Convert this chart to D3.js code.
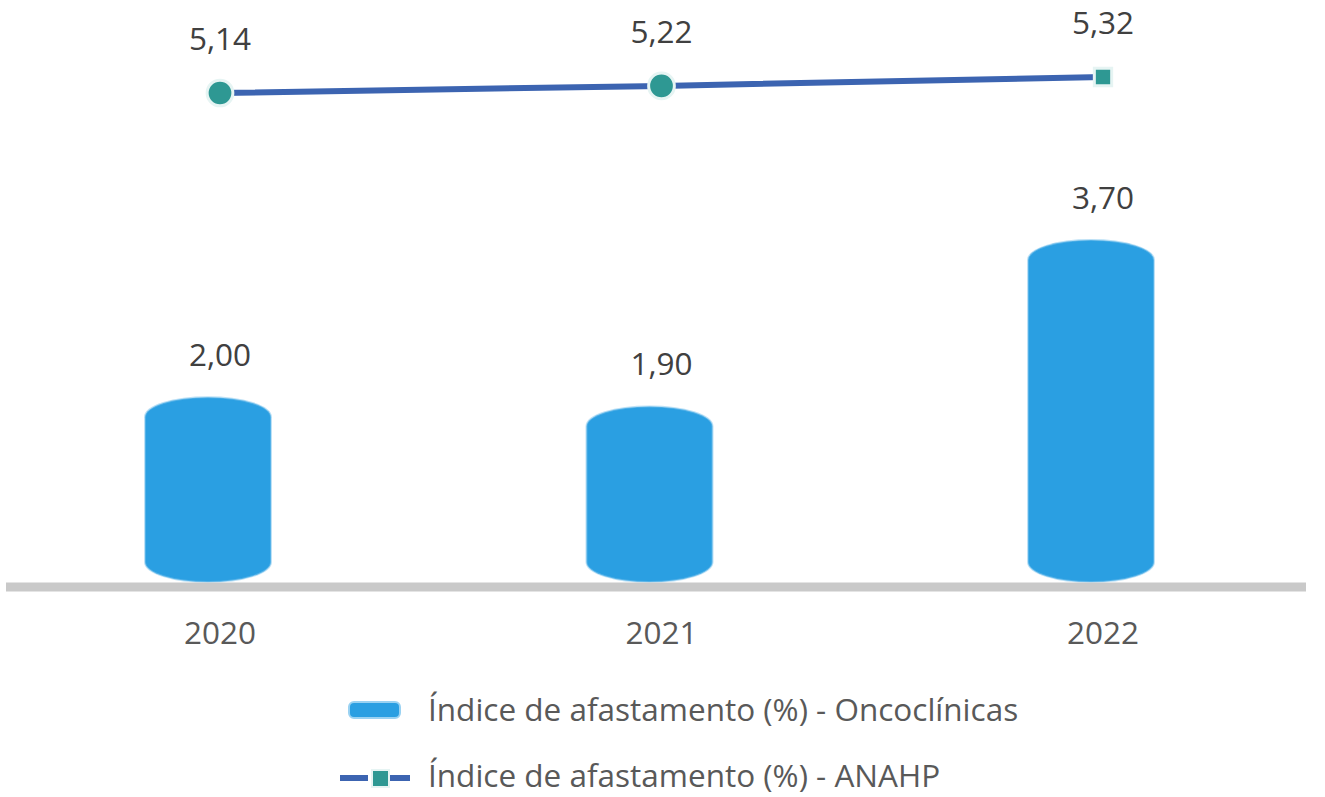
<!DOCTYPE html>
<html lang="pt">
<head>
<meta charset="utf-8">
<title>Índice de afastamento</title>
<script src="https://d3js.org/d3.v7.min.js"></script>
<style>
body { margin: 0; background: #fff; }
text { font-family: "Open Sans", "DejaVu Sans", sans-serif; }
</style>
</head>
<body>
<div id="chart"></div>
<script>
// data
var years = ["2020", "2021", "2022"];
var oncoValues = [2.00, 1.90, 3.70];
var anahpValues = [5.14, 5.22, 5.32];
var oncoName = "Índice de afastamento (%) - Oncoclínicas";
var anahpName = "Índice de afastamento (%) - ANAHP";

var W = 1325, H = 797;
var baseY = 582;
var fs = "31.5px";

var svg = d3.select("#chart").append("svg")
  .attr("width", W)
  .attr("height", H);

var fmt = function(v) { return d3.format(".2f")(v).replace(".", ","); };

// x: category centres
var x = d3.scalePoint()
  .domain(years)
  .range([220, 1103]);

// primary axis (bars)
var y = d3.scaleLinear()
  .domain([0, 3.7])
  .range([baseY, 240]);

// secondary axis (line)
var y2 = d3.scaleLinear()
  .domain([5.14, 5.32])
  .range([93, 77]);

var barW = 126, barOff = -12;

// bars, drawn as rounded "capsules"
svg.selectAll(".bar")
  .data(oncoValues)
  .enter()
  .append("rect")
    .attr("class", "bar")
    .attr("x", function(d, i) { return x(years[i]) + barOff - barW / 2; })
    .attr("y", function(d) { return y(d); })
    .attr("width", barW)
    .attr("height", function(d) { return baseY - y(d); })
    .attr("rx", barW / 2)
    .attr("ry", 20)
    .attr("fill", "#2a9fe2")
    .attr("stroke", "#7cc4ee")
    .attr("stroke-width", 2)
    .attr("stroke-opacity", 0.5);

// baseline
svg.append("line")
  .attr("x1", 6).attr("x2", 1306)
  .attr("y1", baseY + 5).attr("y2", baseY + 5)
  .attr("stroke", "#c9c9c9")
  .attr("stroke-width", 9);

// x labels
svg.selectAll(".xlab")
  .data(years)
  .enter()
  .append("text")
    .attr("x", function(d) { return x(d); })
    .attr("y", 644)
    .attr("text-anchor", "middle")
    .attr("fill", "#595959")
    .style("font-size", fs)
    .text(function(d) { return d; });

// bar labels
svg.selectAll(".blab")
  .data(oncoValues)
  .enter()
  .append("text")
    .attr("x", function(d, i) { return x(years[i]); })
    .attr("y", function(d) { return y(d) - 31; })
    .attr("text-anchor", "middle")
    .attr("fill", "#404040")
    .style("font-size", fs)
    .text(function(d) { return fmt(d); });

// line
var line = d3.line()
  .x(function(d, i) { return x(years[i]); })
  .y(function(d) { return y2(d); });

svg.append("path")
  .datum(anahpValues)
  .attr("d", line)
  .attr("fill", "none")
  .attr("stroke", "#3c64b1")
  .attr("stroke-width", 6);

// markers: circles for the first two years, square for the last
svg.selectAll(".pt")
  .data(anahpValues)
  .enter()
  .append("path")
    .attr("class", "pt")
    .attr("transform", function(d, i) { return "translate(" + x(years[i]) + "," + y2(d) + ")"; })
    .attr("d", function(d, i) {
      return i < 2
        ? d3.symbol().type(d3.symbolCircle).size(520)()
        : d3.symbol().type(d3.symbolSquare).size(300)();
    })
    .attr("fill", "#2e9893")
    .attr("stroke", "#e6f4f3")
    .attr("stroke-width", 3);

// line labels
svg.selectAll(".llab")
  .data(anahpValues)
  .enter()
  .append("text")
    .attr("x", function(d, i) { return x(years[i]); })
    .attr("y", function(d) { return y2(d) - 43; })
    .attr("text-anchor", "middle")
    .attr("fill", "#404040")
    .style("font-size", fs)
    .text(function(d) { return fmt(d); });

// legend
var lg = svg.append("g");
lg.append("rect")
  .attr("x", 349).attr("y", 702)
  .attr("width", 51).attr("height", 16)
  .attr("rx", 5)
  .attr("fill", "#2a9fe2")
  .attr("stroke", "#9ad2f2")
  .attr("stroke-width", 2);
lg.append("text")
  .attr("x", 428).attr("y", 721)
  .attr("fill", "#595959")
  .style("font-size", fs)
  .text(oncoName);

lg.append("line")
  .attr("x1", 340).attr("x2", 422)
  .attr("y1", 778).attr("y2", 778)
  .attr("stroke", "#3c64b1")
  .attr("stroke-width", 6)
  .attr("stroke-dasharray", "28,14");
lg.append("rect")
  .attr("x", 372).attr("y", 770)
  .attr("width", 17).attr("height", 17)
  .attr("fill", "#2e9893")
  .attr("stroke", "#e6f4f3")
  .attr("stroke-width", 2);
lg.append("text")
  .attr("x", 428).attr("y", 787)
  .attr("fill", "#595959")
  .style("font-size", fs)
  .text(anahpName);
</script>
</body>
</html>
